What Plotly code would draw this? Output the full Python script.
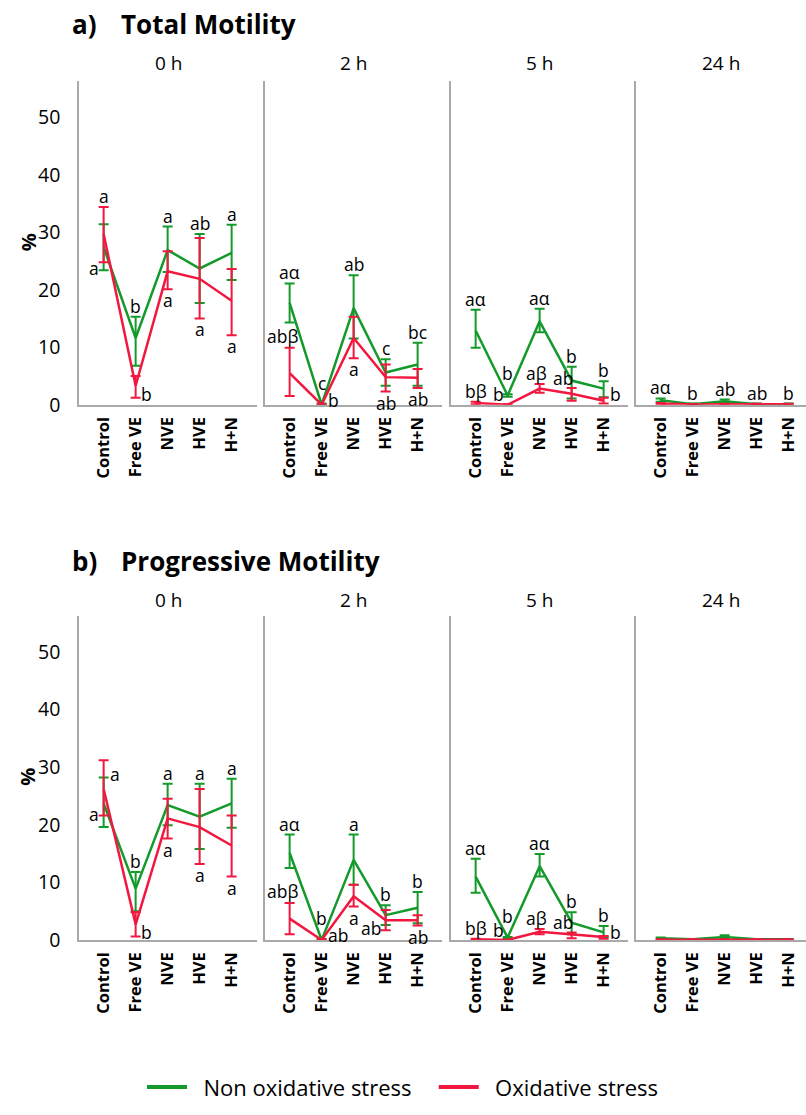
import plotly.graph_objects as go

# ---------------- data ----------------
CATEGORIES = ["Control", "Free VE", "NVE", "HVE", "H+N"]
TIMES = ["0 h", "2 h", "5 h", "24 h"]
SERIES_NAMES = ["Non oxidative stress", "Oxidative stress"]
PANEL_TITLES = [("a)", "Total Motility"), ("b)", "Progressive Motility")]
Y_TICKS = [0, 10, 20, 30, 40, 50]

# a) Total motility - non oxidative stress (mean, upper, lower) per time
TM_NOS_MEAN = [[27.4, 11.6, 26.9, 23.7, 26.4], [17.7, 0.0, 16.8, 5.6, 7.0],
               [12.9, 1.6, 14.5, 4.2, 2.8], [0.8, 0.1, 0.6, 0.1, 0.1]]
TM_NOS_HI = [[31.4, 15.3, 31.0, 29.7, 31.3], [21.1, 0.2, 22.5, 7.9, 10.8],
             [16.5, 1.8, 16.7, 6.6, 4.1], [1.1, 0.2, 0.9, 0.2, 0.2]]
TM_NOS_LO = [[23.4, 6.8, 23.1, 17.7, 21.7], [14.3, 0.0, 11.5, 3.3, 3.3],
             [9.9, 1.4, 12.6, 1.1, 1.3], [0.5, 0.0, 0.3, 0.0, 0.0]]
# a) Total motility - oxidative stress
TM_OS_MEAN = [[29.7, 3.3, 23.2, 21.9, 18.1], [5.5, 0.0, 11.6, 4.8, 4.7],
              [0.3, 0.0, 2.8, 1.9, 0.7], [0.2, 0.05, 0.1, 0.1, 0.1]]
TM_OS_HI = [[34.4, 5.0, 26.7, 29.0, 23.6], [9.9, 0.1, 15.3, 7.0, 6.2],
            [0.5, 0.1, 3.6, 2.9, 1.2], [0.3, 0.1, 0.15, 0.15, 0.15]]
TM_OS_LO = [[24.8, 1.2, 20.1, 15.0, 12.1], [1.5, 0.0, 8.1, 2.3, 2.9],
            [0.1, 0.0, 2.1, 0.7, 0.2], [0.1, 0.0, 0.05, 0.05, 0.05]]

# b) Progressive motility - non oxidative stress
PM_NOS_MEAN = [[23.7, 8.9, 23.4, 21.4, 23.7], [15.1, 0.0, 13.9, 4.3, 5.6],
               [11.0, 0.4, 12.8, 3.0, 1.3], [0.3, 0.1, 0.5, 0.1, 0.1]]
PM_NOS_HI = [[28.2, 11.8, 27.1, 27.1, 28.0], [18.3, 0.1, 18.3, 6.0, 8.3],
             [14.1, 0.5, 14.9, 4.8, 2.4], [0.4, 0.15, 0.8, 0.15, 0.15]]
PM_NOS_LO = [[19.6, 5.0, 19.9, 15.8, 19.5], [12.5, 0.0, 9.6, 2.6, 2.9],
             [8.2, 0.2, 11.0, 1.0, 0.5], [0.2, 0.05, 0.2, 0.05, 0.05]]
# b) Progressive motility - oxidative stress
PM_OS_MEAN = [[26.2, 2.7, 21.1, 19.6, 16.4], [3.7, 0.0, 7.6, 3.4, 3.4],
              [0.1, 0.0, 1.4, 0.9, 0.5], [0.05, 0.05, 0.05, 0.05, 0.05]]
PM_OS_HI = [[31.2, 4.8, 24.5, 26.2, 21.6], [6.4, 0.1, 9.6, 5.2, 4.3],
            [0.2, 0.05, 1.9, 1.3, 0.7], [0.1, 0.1, 0.1, 0.1, 0.1]]
PM_OS_LO = [[21.6, 0.6, 17.6, 13.2, 11.0], [1.0, 0.0, 5.8, 1.7, 2.5],
            [0.05, 0.0, 1.0, 0.3, 0.2], [0.0, 0.0, 0.0, 0.0, 0.0]]

# significance letters
TM_NOS_LETTERS = [["a", "b", "a", "ab", "a"], ["aα", "c", "ab", "c", "bc"],
                  ["aα", "b", "aα", "b", "b"], ["aα", "b", "ab", "ab", "b"]]
TM_OS_LETTERS = [["a", "b", "a", "a", "a"], ["abβ", "b", "a", "ab", "ab"],
                 ["bβ", "b", "aβ", "ab", "b"], ["", "", "", "", ""]]
PM_NOS_LETTERS = [["a", "b", "a", "a", "a"], ["aα", "b", "a", "b", "b"],
                  ["aα", "b", "aα", "b", "b"], ["", "", "", "", ""]]
PM_OS_LETTERS = [["a", "b", "a", "a", "a"], ["abβ", "ab", "a", "ab", "ab"],
                 ["bβ", "b", "aβ", "ab", "b"], ["", "", "", "", ""]]

# ---------------- layout / style ----------------
W, H = 806, 1115
FONT = "Open Sans"
GREEN = "#139a2b"
RED = "#f2173f"
AXIS_GREY = "#a9a9a9"
NBSP = "\u00a0"

# letter placement codes (per panel / time / category)
TM_NOS_POS = [["L", "u", "u", "u", "u"], ["u", "uu", "u", "u", "u"],
              ["u", "uu", "u", "u", "u"], ["u"] * 5]
TM_OS_POS = [["u", "R", "d", "d", "d"], ["ulo", "r", "d", "d", "d"],
             ["u", "ul", "ua", "ul2", "r"], ["u"] * 5]
PM_NOS_POS = [["r", "u", "u", "u", "u"], ["u", "uu", "u", "u", "u"],
              ["u", "uu", "u", "u", "u"], ["u"] * 5]
PM_OS_POS = [["L", "R", "d", "d", "d"], ["ulo", "r", "d", "L", "d"],
             ["u", "ul", "ua", "ul2", "r"], ["u"] * 5]

PLACE = {
    "u": dict(anchor="hi", xanchor="center", yanchor="bottom", xshift=0, yshift=-2),
    "ua": dict(anchor="hi", xanchor="center", yanchor="bottom", xshift=-3, yshift=-2),
    "uu": dict(anchor="hi", xanchor="center", yanchor="bottom", xshift=0, yshift=8),
    "d": dict(anchor="lo", xanchor="center", yanchor="top", xshift=0, yshift=2),
    "L": dict(anchor="lo", xanchor="right", yanchor="middle", xshift=-4, yshift=2),
    "R": dict(anchor="lo", xanchor="left", yanchor="middle", xshift=4, yshift=4),
    "r": dict(anchor="hi", xanchor="left", yanchor="middle", xshift=5, yshift=4),
    "ul": dict(anchor="hi", xanchor="right", yanchor="bottom", xshift=-3, yshift=-3),
    "ul2": dict(anchor="hi", xanchor="right", yanchor="bottom", xshift=2, yshift=-3),
    "ulo": dict(anchor="hi", xanchor="right", yanchor="bottom", xshift=9, yshift=-1),
}

X_DOM_PX = [(79, 257), (265, 442), (451, 628), (636, 806)]
Y_DOM_PX = [(82, 409.5), (623, 951)]
UNIT_PX = 32.0
PAD_UNITS = 0.77
Y_RANGE = [0, 56.3]
TITLE_Y_PX = [24, 568]
FACET_Y_PX = [64, 607]


def fx(p):
    return p / W


def fy(p):
    return 1 - p / H


PANELS = [
    dict(nos=(TM_NOS_MEAN, TM_NOS_HI, TM_NOS_LO, TM_NOS_LETTERS, TM_NOS_POS),
         os=(TM_OS_MEAN, TM_OS_HI, TM_OS_LO, TM_OS_LETTERS, TM_OS_POS)),
    dict(nos=(PM_NOS_MEAN, PM_NOS_HI, PM_NOS_LO, PM_NOS_LETTERS, PM_NOS_POS),
         os=(PM_OS_MEAN, PM_OS_HI, PM_OS_LO, PM_OS_LETTERS, PM_OS_POS)),
]

fig = go.Figure()
annotations = []
layout_axes = {}

for r, panel in enumerate(PANELS):
    for c, tname in enumerate(TIMES):
        k = r * 4 + c + 1
        xa = "x" if k == 1 else f"x{k}"
        ya = "y" if k == 1 else f"y{k}"
        xkey = "xaxis" if k == 1 else f"xaxis{k}"
        ykey = "yaxis" if k == 1 else f"yaxis{k}"
        x0, x1 = X_DOM_PX[c]
        y0, y1 = Y_DOM_PX[r]
        layout_axes[xkey] = dict(
            domain=[fx(x0), fx(x1)], anchor=ya,
            range=[-PAD_UNITS, -PAD_UNITS + (x1 - x0) / UNIT_PX],
            tickmode="array", tickvals=list(range(len(CATEGORIES))), ticktext=CATEGORIES,
            tickangle=-90, ticks="", showgrid=False, zeroline=False,
            showline=True, linecolor=AXIS_GREY, linewidth=1.5,
            tickfont=dict(family=FONT, size=16.5, color="black", weight="bold"),
            ticklabelstandoff=4, fixedrange=True,
        )
        layout_axes[ykey] = dict(
            domain=[fy(y1), fy(y0)], anchor=xa, range=Y_RANGE,
            tickmode="array", tickvals=Y_TICKS, ticks="",
            showticklabels=(c == 0), showgrid=False, zeroline=False,
            showline=True, linecolor=AXIS_GREY, linewidth=1.5,
            tickfont=dict(family=FONT, size=19.5, color="black"),
            ticklabelstandoff=13, fixedrange=True,
        )
        # facet title
        annotations.append(dict(
            text=tname, x=fx((x0 + x1) / 2), y=fy(FACET_Y_PX[r]), xref="paper", yref="paper",
            showarrow=False, xanchor="center", yanchor="middle",
            font=dict(family=FONT, size=19, color="black")))

        for key, color in (("nos", GREEN), ("os", RED)):
            means, his, los, letters, poss = panel[key]
            m, hi, lo = means[c], his[c], los[c]
            xs = list(range(len(CATEGORIES)))
            fig.add_trace(go.Scatter(
                x=xs, y=m, mode="lines", xaxis=xa, yaxis=ya, showlegend=False,
                line=dict(color=color, width=2.5), cliponaxis=False,
                error_y=dict(type="data", symmetric=False,
                             array=[h - v for h, v in zip(hi, m)],
                             arrayminus=[v - l for v, l in zip(m, lo)],
                             color=color, thickness=2, width=5),
                hoverinfo="skip"))
            for i, txt in enumerate(letters[c]):
                if not txt:
                    continue
                p = PLACE[poss[c][i]]
                yv = hi[i] if p["anchor"] == "hi" else lo[i]
                annotations.append(dict(
                    text=txt, x=i, y=yv, xref=xa, yref=ya, showarrow=False,
                    xanchor=p["xanchor"], yanchor=p["yanchor"],
                    xshift=p["xshift"], yshift=p["yshift"], borderpad=0,
                    font=dict(family=FONT, size=17.5, color="black")))

    # panel title and y-axis label
    lab, title = PANEL_TITLES[r]
    annotations.append(dict(text=f"<b>{lab}</b>", x=fx(70), y=fy(TITLE_Y_PX[r]),
                            xref="paper", yref="paper", showarrow=False,
                            xanchor="left", yanchor="middle",
                            font=dict(family=FONT, size=26, color="black")))
    annotations.append(dict(text=f"<b>{title}</b>", x=fx(119), y=fy(TITLE_Y_PX[r]),
                            xref="paper", yref="paper", showarrow=False,
                            xanchor="left", yanchor="middle",
                            font=dict(family=FONT, size=26, color="black")))
    annotations.append(dict(text="<b>%</b>", x=fx(28), y=fy(Y_DOM_PX[r][0] + 163),
                            xref="paper", yref="paper", showarrow=False, textangle=-90,
                            xanchor="center", yanchor="middle",
                            font=dict(family=FONT, size=20, color="black")))

# legend entries
LEGEND_PAD = [(2, 3), (2, 0)]
for name, color, (lead, trail) in zip(SERIES_NAMES, (GREEN, RED), LEGEND_PAD):
    fig.add_trace(go.Scatter(x=[None], y=[None], mode="lines",
                             name=NBSP * lead + name + NBSP * trail,
                             line=dict(color=color, width=4), xaxis="x", yaxis="y"))

fig.update_layout(
    width=W, height=H, margin=dict(l=0, r=0, t=0, b=0),
    paper_bgcolor="white", plot_bgcolor="white",
    font=dict(family=FONT, color="black"),
    annotations=annotations,
    showlegend=True,
    legend=dict(orientation="h", x=0.5, xanchor="center", y=fy(1100), yanchor="middle",
                font=dict(family=FONT, size=22, color="black"),
                itemwidth=40, tracegroupgap=0, bgcolor="rgba(0,0,0,0)"),
    **layout_axes,
)

fig.write_html("out.html")
